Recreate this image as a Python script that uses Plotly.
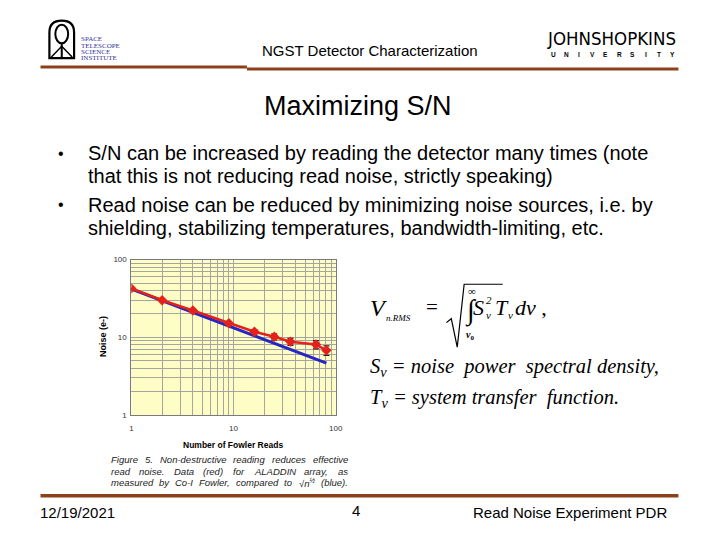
import plotly.graph_objects as go

# ---------------- data ----------------
reads = [1, 2, 4, 9, 16, 25, 36, 64, 81]
noise_measured = [42.7, 30.0, 22.2, 15.2, 11.8, 10.2, 8.8, 8.1, 6.8]
noise_err = [0.0, 0.4, 0.6, 0.8, 0.8, 0.9, 0.9, 1.0, 0.95]
noise_model = [42.0, 29.7, 21.0, 14.0, 10.5, 8.4, 7.0, 5.25, 4.67]

major_ticks = [1, 10, 100]
major_labels = ["1", "10", "100"]
minor_ticks = [2, 3, 4, 5, 6, 7, 8, 9, 20, 30, 40, 50, 60, 70, 80, 90]

bullets = [
    "S/N can be increased by reading the detector many times (note",
    "that this is not reducing read noise, strictly speaking)",
    "Read noise can be reduced by minimizing noise sources, i.e. by",
    "shielding, stabilizing temperatures, bandwidth-limiting, etc.",
]
caption = [
    "Figure 5. Non-destructive reading reduces effective",
    "read noise. Data (red) for ALADDIN array, as",
    "measured by Co-I Fowler, compared to √n<sup>½</sup> (blue).",
]

W, H = 720, 540


def px(x):
    return x / W


def py(y):
    return 1 - y / H


SANS = "Liberation Sans, Arial, sans-serif"
SERIF = "Liberation Serif, Times New Roman, serif"
BROWN = "#8B4219"

# Arial advance widths (1/1000 em) used to justify the caption lines
_AW = {' ': 278, ',': 278, '-': 333, '.': 278, '(': 333, ')': 333, '√': 549, '½': 600}
_AW.update({d: 556 for d in "0123456789"})
_AW.update(dict(zip("ABCDEFGHIJKLMNOPQRSTUVWXYZ",
                    [667, 667, 722, 722, 667, 611, 778, 722, 278, 500, 667, 556, 833,
                     722, 778, 667, 778, 722, 667, 611, 722, 667, 944, 667, 667, 611])))
_AW.update(dict(zip("abcdefghijklmnopqrstuvwxyz",
                    [556, 556, 500, 556, 556, 278, 556, 556, 222, 222, 500, 222, 833,
                     556, 556, 556, 556, 333, 500, 278, 556, 500, 722, 500, 500, 500])))


def text_width(s, size):
    s = s.replace("<sup>", "").replace("</sup>", "")
    return sum(_AW.get(c, 556) for c in s) * size / 1000.0


fig = go.Figure()

fig.add_trace(go.Scatter(
    x=reads, y=noise_model, mode="lines",
    line=dict(color="#2626C4", width=3), hoverinfo="skip"))

fig.add_trace(go.Scatter(
    x=reads, y=noise_measured, mode="lines+markers",
    line=dict(color="#E3231B", width=2.5),
    marker=dict(symbol="diamond", size=8, color="#E3231B"),
    error_y=dict(type="data", array=noise_err, visible=True,
                 color="#3A1A10", thickness=1.2, width=3),
    hoverinfo="skip"))

axis_common = dict(
    type="log", range=[0, 2], tickmode="array",
    tickvals=major_ticks, ticktext=major_labels,
    showgrid=True, gridcolor="#A6A6A0", gridwidth=0.7,
    minor=dict(tickmode="array", tickvals=minor_ticks, showgrid=True,
               gridcolor="#A6A6A0", gridwidth=0.7, ticks=""),
    showline=True, linecolor="#7A7A7A", linewidth=1, mirror=True,
    ticks="", zeroline=False,
    tickfont=dict(family=SANS, size=8, color="#333333"),
)

fig.update_layout(
    width=W, height=H,
    margin=dict(l=0, r=0, t=0, b=0),
    paper_bgcolor="white",
    plot_bgcolor="#FFFDC6",
    showlegend=False,
    xaxis=dict(domain=[px(131), px(338)], ticklabelstandoff=5, **axis_common),
    yaxis=dict(domain=[py(418), py(260)], ticklabelstandoff=2, **axis_common),
)

ann = []


def text(x, y, s, size, family=SANS, color="black", xanchor="left",
         yanchor="middle", textangle=0):
    ann.append(dict(x=px(x), y=py(y), xref="paper", yref="paper", text=s,
                    showarrow=False, xanchor=xanchor, yanchor=yanchor,
                    textangle=textangle,
                    font=dict(family=family, size=size, color=color)))


# header
text(373, 47, "NGST Detector Characterization", 15, xanchor="center")
for i, w in enumerate(["SPACE", "TELESCOPE", "SCIENCE", "INSTITUTE"]):
    text(78, 36 + i * 6.4, w, 7, family=SERIF, color="#33339A")
text(617, 35, "JOHNSHOPKINS", 18.5,
     family="Liberation Sans Narrow, DejaVu Sans Condensed, sans-serif",
     xanchor="center")
for i, ch in enumerate("UNIVERSITY"):
    text(558 + i * 13.4, 51, "<b>" + ch + "</b>", 6.5, xanchor="center")

# title
text(360, 104, "Maximizing S/N", 27, xanchor="center")

# bullets
for yb in (152, 204):
    text(60, yb, "•", 16, xanchor="center")
for s, yb in zip(bullets, (152, 175, 204, 228)):
    text(85, yb, s, 20)

# chart titles
text(103, 338, "<b>Noise (e-)</b>", 9, textangle=-90, xanchor="center")
text(234, 448, "<b>Number of Fowler Reads</b>", 8.5, xanchor="center")

# justified caption (word by word)
CAP_SIZE, CAP_L, CAP_R = 9.5, 108, 348
for s, yc in zip(caption, (463, 475, 487)):
    words = s.split(" ")
    total = sum(text_width(w, CAP_SIZE) for w in words)
    gap = (CAP_R - CAP_L - total) / (len(words) - 1)
    xw = CAP_L
    for w in words:
        text(xw, yc, "<i>" + w + "</i>", CAP_SIZE, color="#222222")
        xw += text_width(w, CAP_SIZE) + gap

# equation
EQ = -24
text(371, 309, "<i>V</i>", 24, family=SERIF)
text(387, 319, "<i>n.RMS</i>", 9, family=SERIF)
text(427, 308, "=", 21, family=SERIF)
text(494 + EQ, 292, "∞", 11, family=SERIF)
text(491 + EQ, 312, "∫", 28, family=SERIF)
text(492 + EQ, 337, "<b><i>ν</i><sub>0</sub></b>", 10, family=SERIF)
text(499 + EQ, 309, "<i>S</i>", 22, family=SERIF)
text(512 + EQ, 301, "<i>2</i>", 11, family=SERIF)
text(512 + EQ, 316, "<i>ν</i>", 11, family=SERIF)
text(521 + EQ, 309, "<i>T</i>", 22, family=SERIF)
text(534 + EQ, 316, "<i>ν</i>", 11, family=SERIF)
text(541 + EQ, 309, "<i>dν</i> ,", 22, family=SERIF)
text(371, 370, "<i>S<sub>ν</sub> = noise  power  spectral density,</i>", 20.5, family=SERIF)
text(371, 401, "<i>T<sub>ν</sub> = system transfer  function.</i>", 20.5, family=SERIF)

# footer
text(36, 517, "12/19/2021", 15)
text(358, 515, "4", 15, xanchor="center")
text(675, 517, "Read Noise Experiment PDR", 15, xanchor="right")

fig.update_layout(annotations=ann)

shapes = []


def line(x0, y0, x1, y1, color, width):
    shapes.append(dict(type="line", xref="paper", yref="paper",
                       x0=px(x0), y0=py(y0), x1=px(x1), y1=py(y1),
                       line=dict(color=color, width=width)))


def path(points, color, width, close=False):
    d = "M " + " L ".join(f"{px(a):.5f},{py(b):.5f}" for a, b in points)
    if close:
        d += " Z"
    shapes.append(dict(type="path", xref="paper", yref="paper", path=d,
                       line=dict(color=color, width=width)))


# header / footer rules
line(39, 64, 248, 64, BROWN, 3)
line(248, 66, 685, 66, BROWN, 3)
line(39, 500, 685, 500, BROWN, 3.5)

# STScI logo (simplified)
shapes.append(dict(type="path", xref="paper", yref="paper",
                   path=(f"M {px(48):.5f},{py(55):.5f} L {px(48):.5f},{py(29):.5f} "
                         f"Q {px(48):.5f},{py(17):.5f} {px(60.5):.5f},{py(17):.5f} "
                         f"Q {px(73):.5f},{py(17):.5f} {px(73):.5f},{py(29):.5f} "
                         f"L {px(73):.5f},{py(55):.5f} Z"),
                   line=dict(color="black", width=2.2)))
shapes.append(dict(type="circle", xref="paper", yref="paper",
                   x0=px(54), x1=px(67), y0=py(40), y1=py(21),
                   line=dict(color="black", width=2)))
line(60.5, 40, 60.5, 54, "black", 2)
path([(50, 54), (60.5, 43), (71, 54)], "black", 1.5)

# radical sign
path([(474 + EQ, 324), (479 + EQ, 320), (485 + EQ, 349), (492 + EQ, 285), (531 + EQ, 285)],
     "black", 1.2)

fig.update_layout(shapes=shapes)

fig.write_html("out.html", config={"displayModeBar": False},
               post_script="document.body.style.margin='0px';")
